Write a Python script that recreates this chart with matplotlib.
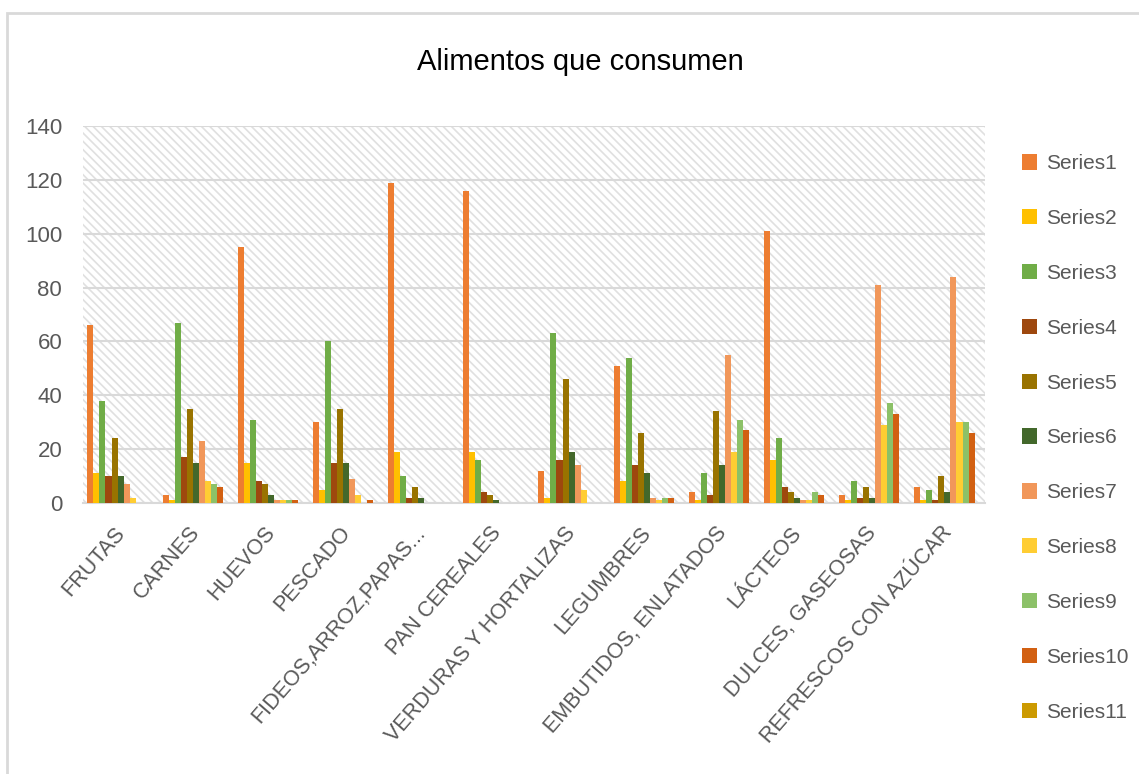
import numpy as np
import matplotlib.pyplot as plt
from matplotlib.patches import Rectangle
import matplotlib.transforms as mtransforms

plt.rcParams['font.family'] = ['Liberation Sans Narrow', 'Liberation Sans', 'DejaVu Sans']
plt.rcParams['hatch.color'] = '#e0e0e0'
plt.rcParams['hatch.linewidth'] = 1.2

categories = ['FRUTAS', 'CARNES', 'HUEVOS', 'PESCADO', 'FIDEOS,ARROZ,PAPAS...',
              'PAN CEREALES', 'VERDURAS Y HORTALIZAS', 'LEGUMBRES',
              'EMBUTIDOS, ENLATADOS', 'LÁCTEOS', 'DULCES, GASEOSAS',
              'REFRESCOS CON AZÚCAR']

series1 = [66, 3, 95, 30, 119, 116, 12, 51, 4, 101, 3, 6]
series2 = [11, 1, 15, 5, 19, 19, 2, 8, 1, 16, 1, 1]
series3 = [38, 67, 31, 60, 10, 16, 63, 54, 11, 24, 8, 5]
series4 = [10, 17, 8, 15, 2, 4, 16, 14, 3, 6, 2, 1]
series5 = [24, 35, 7, 35, 6, 3, 46, 26, 34, 4, 6, 10]
series6 = [10, 15, 3, 15, 2, 1, 19, 11, 14, 2, 2, 4]
series7 = [7, 23, 1, 9, 0, 0, 14, 2, 55, 1, 81, 84]
series8 = [2, 8, 1, 3, 0, 0, 5, 1, 19, 1, 29, 30]
series9 = [0, 7, 1, 0, 0, 0, 0, 2, 31, 4, 37, 30]
series10 = [0, 6, 1, 1, 0, 0, 0, 2, 27, 3, 33, 26]
series11 = [0, 0, 0, 0, 0, 0, 0, 0, 0, 0, 0, 0]

series = [series1, series2, series3, series4, series5, series6,
          series7, series8, series9, series10, series11]
names = ['Series%d' % (i + 1) for i in range(len(series))]
colors = ['#ED7D31', '#FFC000', '#70AD47', '#9E480E', '#997300', '#43682B',
          '#F1975A', '#FFCD33', '#8CC168', '#D26012', '#CC9A00']

fig = plt.figure(figsize=(11.39, 7.74), dpi=100)
# outer chart frame
fig.patches.append(Rectangle((7 / 1139, -0.01), 1.1, 1 - 13 / 774 + 0.01,
                             transform=fig.transFigure, fill=False,
                             edgecolor='#d9d9d9', linewidth=2))

ax = fig.add_axes([83 / 1139, 1 - 503 / 774, (985 - 83) / 1139, (503 - 126) / 774])

# hatched plot area
ax.add_patch(Rectangle((0, 0), 1, 1, transform=ax.transAxes, facecolor='white',
                       hatch='\\\\\\\\', edgecolor='#e0e0e0', linewidth=0, zorder=0))

x = np.arange(len(categories))
w = 0.0803
for i, (vals, name, c) in enumerate(zip(series, names, colors)):
    ax.bar(x + (i - 5) * w, vals, width=w, color=c, label=name, zorder=3)

ax.set_xlim(-0.5, len(categories) - 0.5)
ax.set_ylim(0, 140)
ax.set_yticks(range(0, 141, 20))
ax.yaxis.grid(True, color='#d9d9d9', linewidth=1.5, zorder=1)
ax.set_axisbelow(True)
for s in ['top', 'right', 'left']:
    ax.spines[s].set_visible(False)
ax.spines['bottom'].set_color('#d9d9d9')
ax.spines['bottom'].set_linewidth(1.5)
ax.tick_params(axis='both', length=0, colors='#595959', labelsize=16)
ax.tick_params(axis='y', pad=15)

ax.set_xticks(x)
ax.set_xticklabels(categories, rotation=49, ha='right', va='top',
                   rotation_mode='anchor', fontsize=15.5, color='#595959')
offset = mtransforms.ScaledTranslation(-5 / 72, -10.5 / 72, fig.dpi_scale_trans)
for lab in ax.get_xticklabels():
    lab.set_transform(lab.get_transform() + offset)

fig.text(580 / 1139, 1 - 62 / 774, 'Alimentos que consumen', ha='center',
         va='center', fontsize=21, color='black')

leg = ax.legend(loc='upper left', bbox_to_anchor=(1.02, 0.975), frameon=False,
                fontsize=15, labelcolor='#595959', handlelength=0.75,
                handleheight=0.75, handletextpad=0.4, labelspacing=1.72)

fig.savefig('out.png', dpi=100)
